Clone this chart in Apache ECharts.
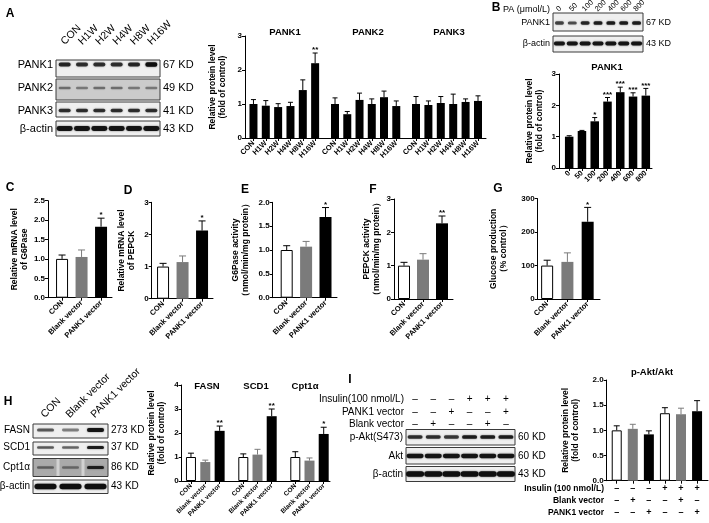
<!DOCTYPE html>
<html><head><meta charset="utf-8">
<script src="https://cdn.jsdelivr.net/npm/echarts@6/dist/echarts.min.js"></script>
<style>html,body{margin:0;padding:0;background:#fff}#c{width:709px;height:523px}</style>
</head><body><div id="c"></div>
<script>
// ---------------- data ----------------
const timeCats = ['CON','H1W','H2W','H4W','H8W','H16W'];
const pank1Time = [1.00, 0.95, 0.91, 0.94, 1.41, 2.20];
const pank1TimeErr = [0.13, 0.15, 0.10, 0.11, 0.30, 0.30];
const pank1TimeStar = ['', '', '', '', '', '**'];
const pank2Time = [1.00, 0.70, 1.12, 1.00, 1.20, 0.94];
const pank2TimeErr = [0.18, 0.08, 0.20, 0.15, 0.18, 0.15];
const pank3Time = [1.00, 0.97, 1.03, 1.00, 1.06, 1.09];
const pank3TimeErr = [0.22, 0.12, 0.19, 0.29, 0.09, 0.15];

const paCats = ['0','50','100','200','400','600','800'];
const pank1PA = [1.00, 1.18, 1.49, 2.12, 2.42, 2.28, 2.31];
const pank1PAErr = [0.03, 0.02, 0.12, 0.13, 0.16, 0.12, 0.23];
const pank1PAStar = ['', '', '*', '***', '***', '***', '***'];

const vecCats = ['CON','Blank vector','PANK1 vector'];
const g6paseMRNA = [1.00, 1.05, 1.83];  const g6paseMRNAErr = [0.10, 0.18, 0.22];  const g6paseMRNAStar = ['', '', '*'];
const pepckMRNA  = [1.00, 1.14, 2.12];  const pepckMRNAErr  = [0.10, 0.19, 0.30];  const pepckMRNAStar  = ['', '', '*'];
const g6paseAct  = [1.00, 1.07, 1.69];  const g6paseActErr  = [0.09, 0.11, 0.20];  const g6paseActStar  = ['', '', '*'];
const pepckAct   = [1.00, 1.18, 2.27];  const pepckActErr   = [0.10, 0.18, 0.22];  const pepckActStar   = ['', '', '**'];
const glucoseProd = [100, 111, 231];    const glucoseProdErr = [16, 27, 43];       const glucoseProdStar = ['', '', '*'];

const fasnLevel = [1.00, 0.79, 2.09];   const fasnErr = [0.16, 0.08, 0.20];   const fasnStar = ['', '', '**'];
const scd1Level = [1.00, 1.10, 2.70];   const scd1Err = [0.13, 0.22, 0.30];   const scd1Star = ['', '', '**'];
const cpt1aLevel = [1.00, 0.85, 1.96];  const cpt1aErr = [0.22, 0.11, 0.28];  const cpt1aStar = ['', '', '*'];

const aktCats = ['g1','g2','g3','g4','g5','g6'];
const pAktRatio = [1.00, 1.03, 0.92, 1.34, 1.32, 1.38];
const pAktErr = [0.09, 0.09, 0.07, 0.11, 0.12, 0.21];
const insulinSigns = ['–','–','–','+','+','+'];
const blankSigns   = ['–','+','–','–','+','–'];
const pank1Signs   = ['–','–','+','–','–','+'];

// blot band intensities (visual only)
const blotA = { PANK1:[0.85,0.8,0.8,0.8,0.85,1.0], PANK2:[0.45,0.4,0.45,0.45,0.4,0.4], PANK3:[0.8,0.8,0.8,0.8,0.8,0.8], actin:[0.95,0.95,0.95,0.95,0.95,0.95] };
const blotB = { PANK1:[0.7,0.65,0.85,0.9,0.9,0.9,0.9], actin:[0.95,0.95,0.95,0.95,0.95,0.95,0.95] };
const blotH = { FASN:[0.6,0.45,0.95], SCD1:[0.6,0.55,0.9], CPT1A:[0.45,0.4,0.85], actin:[1,1,1] };
const blotI = { pAkt:[0.8,0.8,0.75,0.9,0.9,0.9], Akt:[0.95,0.95,0.95,0.95,0.95,0.95], actin:[1,1,1,1,1,1] };

// ---------------- builders ----------------
const FONT = "'Liberation Sans', Arial, sans-serif";
const WHITE = '#ffffff', GREY = '#7b7b7b', BLACK = '#000000';
const grids = [], xAxes = [], yAxes = [], series = [], graphics = [];

function addGroup(p, g) {
  const gi = grids.length;
  grids.push({left:g.left, top:p.top, width:g.width, height:p.bottom - p.top, containLabel:false, outerBoundsMode:'none'});
  const xi = xAxes.length, yi = yAxes.length;
  xAxes.push({gridIndex:gi, type:'category', data:g.cats,
    axisLine:{show:false}, axisTick:{show:true, alignWithLabel:true, length:3, lineStyle:{color:'#000', width:1}},
    axisLabel:{interval:0, rotate:(g.rotate === undefined ? 45 : g.rotate), fontSize:g.fs || 7.5, fontWeight:'bold', color:'#000',
      fontFamily:FONT, margin:(g.margin === undefined ? 4 : g.margin), formatter:g.fmt, lineHeight:g.lh},
    splitLine:{show:false}});
  yAxes.push({gridIndex:gi, type:'value', min:p.min, max:p.max, show:false});
  series.push({type:'bar', xAxisIndex:xi, yAxisIndex:yi, barWidth:g.bw, animation:false, silent:true,
    data:g.vals.map((v, i) => ({value:v, itemStyle:{color:g.colors[i],
      borderColor:g.colors[i] === WHITE ? '#000' : g.colors[i], borderWidth:g.colors[i] === WHITE ? 1 : 0}}))});
  series.push({type:'custom', xAxisIndex:xi, yAxisIndex:yi, animation:false, silent:true, clip:false,
    data:g.vals.map((v, i) => [i, v, g.errs[i]]), encode:{x:0, y:1},
    renderItem:(params, api) => {
      const i = api.value(0), v = api.value(1), e = api.value(2);
      const a = api.coord([i, v]), b = api.coord([i, v + e]);
      const c = g.colors[i] === WHITE ? '#000' : g.colors[i];
      const hw = g.cap;
      const ch = [
        {type:'line', shape:{x1:a[0], y1:a[1], x2:b[0], y2:b[1]}, style:{stroke:c, lineWidth:1}},
        {type:'line', shape:{x1:b[0] - hw, y1:b[1], x2:b[0] + hw, y2:b[1]}, style:{stroke:c, lineWidth:1}}
      ];
      if (g.stars && g.stars[i]) ch.push({type:'text', x:b[0], y:b[1] + 1,
        style:{text:g.stars[i], fill:'#000', font:'bold 8px ' + FONT, align:'center', verticalAlign:'bottom'}});
      return {type:'group', children:ch};
    }});
}

function panel(p) {
  const gi = grids.length;
  grids.push({left:p.x0, top:p.top, width:p.x1 - p.x0, height:p.bottom - p.top, containLabel:false, outerBoundsMode:'none'});
  xAxes.push({gridIndex:gi, type:'value', min:0, max:1, axisLine:{show:true, onZero:false, lineStyle:{color:'#000', width:1}},
    axisTick:{show:false}, axisLabel:{show:false}, splitLine:{show:false}});
  yAxes.push({gridIndex:gi, type:'value', min:p.min, max:p.max, interval:p.interval,
    axisLine:{show:true, lineStyle:{color:'#000', width:1}}, axisTick:{show:true, length:3, lineStyle:{color:'#000', width:1}},
    axisLabel:{fontSize:8, fontWeight:'bold', color:'#000', fontFamily:FONT, margin:3,
      formatter:p.dec ? (v => v.toFixed(p.dec)) : (v => String(v))},
    splitLine:{show:false},
    name:p.name, nameLocation:'middle', nameGap:p.nameGap,
    nameTextStyle:{fontSize:8.5, fontWeight:'bold', color:'#000', fontFamily:FONT, lineHeight:10}});
  p.groups.forEach(g => addGroup(p, g));
}

function txt(x, y, s, o) {
  o = o || {};
  graphics.push({type:'text', x:x, y:y, rotation:o.rot || 0, silent:true,
    style:{text:s, fill:'#000', font:(o.bold ? 'bold ' : '') + (o.fs || 10) + 'px ' + FONT,
      align:o.align || 'left', verticalAlign:o.va || 'middle'}});
}

function laneX(o, i) { return o.x + (o.w / o.n) * (i + 0.5); }

function blot(o) {
  graphics.push({type:'rect', silent:true, shape:{x:o.x, y:o.y, width:o.w, height:o.h},
    style:{fill:o.fill || '#efefef', stroke:'#3a3a3a', lineWidth:1}});
  const lw = o.w / o.n;
  if (o.seps) for (let k = 1; k < o.n; k++) graphics.push({type:'rect', silent:true,
    shape:{x:o.x + lw * k - 1.5, y:o.y + 0.5, width:3, height:o.h - 1}, style:{fill:o.seps}});
  o.ints.forEach((a, i) => {
    const cx = laneX(o, i);
    const bh = o.bh * (0.6 + 0.5 * a);
    graphics.push({type:'rect', silent:true, shape:{x:cx - o.bw / 2, y:o.y + o.by - bh / 2, width:o.bw, height:bh, r:bh / 2},
      style:{fill:'rgba(15,15,15,' + a + ')', shadowBlur:2, shadowColor:'rgba(0,0,0,' + (a * 0.6) + ')'}});
  });
  txt(o.x - 3, o.y + o.by, o.label, {fs:o.fs, align:'right'});
  txt(o.x + o.w + 3, o.y + o.by, o.kd, {fs:o.fs});
}

const REL = 'Relative protein level\n(fold of control)';

// ---------------- Panel A ----------------
panel({x0:245, x1:486, top:36, bottom:138, min:0, max:3, interval:1, name:REL, nameGap:17, groups:[
  {left:247.3, width:74, cats:timeCats, vals:pank1Time, errs:pank1TimeErr, stars:pank1TimeStar, colors:timeCats.map(() => BLACK), bw:8, cap:2.5},
  {left:328.9, width:73.5, cats:timeCats, vals:pank2Time, errs:pank2TimeErr, colors:timeCats.map(() => BLACK), bw:8, cap:2.5},
  {left:409.8, width:74.4, cats:timeCats, vals:pank3Time, errs:pank3TimeErr, colors:timeCats.map(() => BLACK), bw:8, cap:2.5}
]});
// ---------------- Panel B ----------------
panel({x0:559, x1:652, top:74, bottom:168, min:0, max:3, interval:1, name:REL, nameGap:14, groups:[
  {left:562.8, width:89.4, cats:paCats, vals:pank1PA, errs:pank1PAErr, stars:pank1PAStar, colors:paCats.map(() => BLACK), bw:8.5, cap:2.5}
]});
// ---------------- Panels C-G ----------------
const vecColors = [WHITE, GREY, BLACK];
panel({x0:48, x1:112, top:200.7, bottom:297.7, min:0, max:2.5, interval:0.5, dec:1, name:'Relative mRNA level\nof G6Pase', nameGap:16, groups:[
  {left:52.3, width:58.5, cats:vecCats, vals:g6paseMRNA, errs:g6paseMRNAErr, stars:g6paseMRNAStar, colors:vecColors, bw:12, cap:3.5}]});
panel({x0:151.7, x1:213, top:202.3, bottom:298.7, min:0, max:3, interval:1, name:'Relative mRNA level\nof PEPCK', nameGap:15, groups:[
  {left:153.3, width:58.5, cats:vecCats, vals:pepckMRNA, errs:pepckMRNAErr, stars:pepckMRNAStar, colors:vecColors, bw:12, cap:3.5}]});
panel({x0:272.7, x1:337, top:202.3, bottom:297.7, min:0, max:2, interval:0.5, dec:1, name:'G6Pase activity\n（nmol/min/mg protein）', nameGap:22, groups:[
  {left:277, width:58.2, cats:vecCats, vals:g6paseAct, errs:g6paseActErr, stars:g6paseActStar, colors:vecColors, bw:12, cap:3.5}]});
panel({x0:394, x1:453, top:199, bottom:299, min:0, max:3, interval:1, name:'PEPCK activity\n（nmol/min/mg protein）', nameGap:12, groups:[
  {left:394.5, width:57, cats:vecCats, vals:pepckAct, errs:pepckActErr, stars:pepckActStar, colors:vecColors, bw:12, cap:3.5}]});
panel({x0:537.7, x1:600, top:198.7, bottom:299, min:0, max:300, interval:100, name:'Glucose production\n（% control）', nameGap:29, groups:[
  {left:537, width:60.8, cats:vecCats, vals:glucoseProd, errs:glucoseProdErr, stars:glucoseProdStar, colors:vecColors, bw:12, cap:3.5}]});
// ---------------- Panel H ----------------
panel({x0:181.7, x1:330, top:385, bottom:481, min:0, max:4, interval:1, name:REL, nameGap:15, groups:[
  {left:183.8, width:43, cats:vecCats, vals:fasnLevel, errs:fasnErr, stars:fasnStar, colors:vecColors, bw:10, cap:3, fs:6.5},
  {left:236.2, width:42.6, cats:vecCats, vals:scd1Level, errs:scd1Err, stars:scd1Star, colors:vecColors, bw:10, cap:3, fs:6.5},
  {left:288.2, width:42.6, cats:vecCats, vals:cpt1aLevel, errs:cpt1aErr, stars:cpt1aStar, colors:vecColors, bw:10, cap:3, fs:6.5}]});
// ---------------- Panel I ----------------
panel({x0:606.7, x1:708, top:380, bottom:480.7, min:0, max:2, interval:0.5, dec:1, name:REL, nameGap:26, groups:[
  {left:608.7, width:96.4, cats:aktCats, vals:pAktRatio, errs:pAktErr, colors:[WHITE, GREY, BLACK, WHITE, GREY, BLACK], bw:10, cap:3,
   rotate:0, margin:2, fs:9, lh:12, fmt:(v, i) => insulinSigns[i] + '\n' + blankSigns[i] + '\n' + pank1Signs[i]}]});
txt(604, 488.3, 'Insulin (100 nmol/L)', {fs:8.5, bold:true, align:'right'});
txt(604, 500.7, 'Blank vector', {fs:8.5, bold:true, align:'right'});
txt(604, 512.6, 'PANK1 vector', {fs:8.5, bold:true, align:'right'});

// ---------------- titles & letters ----------------
[['A',10,14],['B',496,8],['C',10,188],['D',128,191],['E',245,190],['F',373,190],['G',498,189],['H',8,402],['I',350,380]]
  .forEach(l => txt(l[1], l[2], l[0], {fs:12, bold:true, align:'center'}));
[['PANK1',285,32],['PANK2',368,32],['PANK3',449,32],['PANK1',607,67],['FASN',207,386],['SCD1',256,386],['Cpt1α',305,386],['p-Akt/Akt',652,372]]
  .forEach(l => txt(l[1], l[2], l[0], {fs:9.5, bold:true, align:'center'}));

// ---------------- blots ----------------
const bA = {x:56, w:104, n:6};
blot(Object.assign({}, bA, {y:60, h:17, by:4.5, bh:4, bw:12, ints:blotA.PANK1, label:'PANK1', kd:'67 KD', fs:11}));
blot(Object.assign({}, bA, {y:79, h:21, by:9, bh:3, bw:12, ints:blotA.PANK2, label:'PANK2', kd:'49 KD', fs:11, fill:'#cbcbcb'}));
blot(Object.assign({}, bA, {y:102, h:15, by:8.5, bh:3.5, bw:12, ints:blotA.PANK3, label:'PANK3', kd:'41 KD', fs:11}));
blot(Object.assign({}, bA, {y:121, h:15, by:7.5, bh:4.5, bw:16, ints:blotA.actin, label:'β-actin', kd:'43 KD', fs:11}));
timeCats.forEach((c, i) => txt(laneX(bA, i) + 2, 47, c, {fs:10.5, rot:Math.PI / 4, va:'bottom'}));

const bB = {x:553, w:90, n:7};
blot(Object.assign({}, bB, {y:13, h:18, by:10, bh:3.5, bw:9, ints:blotB.PANK1, label:'PANK1', kd:'67 KD', fs:9}));
blot(Object.assign({}, bB, {y:36, h:16, by:7.5, bh:3.5, bw:11, ints:blotB.actin, label:'β-actin', kd:'43 KD', fs:9}));
txt(503, 10, 'PA (μmol/L)', {fs:9});
paCats.forEach((c, i) => txt(laneX(bB, i) + 1, 13, c, {fs:7.5, rot:Math.PI / 4, va:'bottom'}));

const bH = {x:33, w:75, n:3};
blot(Object.assign({}, bH, {y:424, h:14, by:6, bh:3.5, bw:17, ints:blotH.FASN, label:'FASN', kd:'273 KD', fs:10}));
blot(Object.assign({}, bH, {y:442, h:13, by:5.5, bh:3, bw:17, ints:blotH.SCD1, label:'SCD1', kd:'37 KD', fs:10}));
blot(Object.assign({}, bH, {y:458.5, h:18, by:9, bh:3, bw:17, ints:blotH.CPT1A, label:'Cpt1α', kd:'86 KD', fs:10, fill:'#aaaaaa', seps:'#d2d2d2'}));
blot(Object.assign({}, bH, {y:480, h:13.5, by:6.5, bh:5, bw:22, ints:blotH.actin, label:'β-actin', kd:'43 KD', fs:10}));
vecCats.forEach((c, i) => txt(laneX(bH, i) + 1, 420, c, {fs:10.5, rot:Math.PI / 4, va:'bottom'}));

const bI = {x:406, w:109, n:6};
blot(Object.assign({}, bI, {y:429.5, h:15.5, by:7.5, bh:3.5, bw:15, ints:blotI.pAkt, label:'p-Akt(S473)', kd:'60 KD', fs:10}));
blot(Object.assign({}, bI, {y:447.5, h:16.5, by:8.5, bh:4, bw:17, ints:blotI.Akt, label:'Akt', kd:'60 KD', fs:10}));
blot(Object.assign({}, bI, {y:466.5, h:15, by:7.5, bh:5, bw:18, ints:blotI.actin, label:'β-actin', kd:'43 KD', fs:10}));
txt(404, 399.3, 'Insulin(100 nmol/L)', {fs:10, align:'right'});
txt(404, 412.3, 'PANK1 vector', {fs:10, align:'right'});
txt(404, 424.3, 'Blank vector', {fs:10, align:'right'});
insulinSigns.forEach((s, i) => {
  txt(laneX(bI, i), 399.3, s, {fs:10, align:'center'});
  txt(laneX(bI, i), 412.3, pank1Signs[i], {fs:10, align:'center'});
  txt(laneX(bI, i), 424.3, blankSigns[i], {fs:10, align:'center'});
});

const chart = echarts.init(document.getElementById('c'), null, {renderer:'canvas'});
chart.setOption({animation:false, backgroundColor:'#ffffff', grid:grids, xAxis:xAxes, yAxis:yAxes, series:series, graphic:{elements:graphics}});
</script></body></html>
